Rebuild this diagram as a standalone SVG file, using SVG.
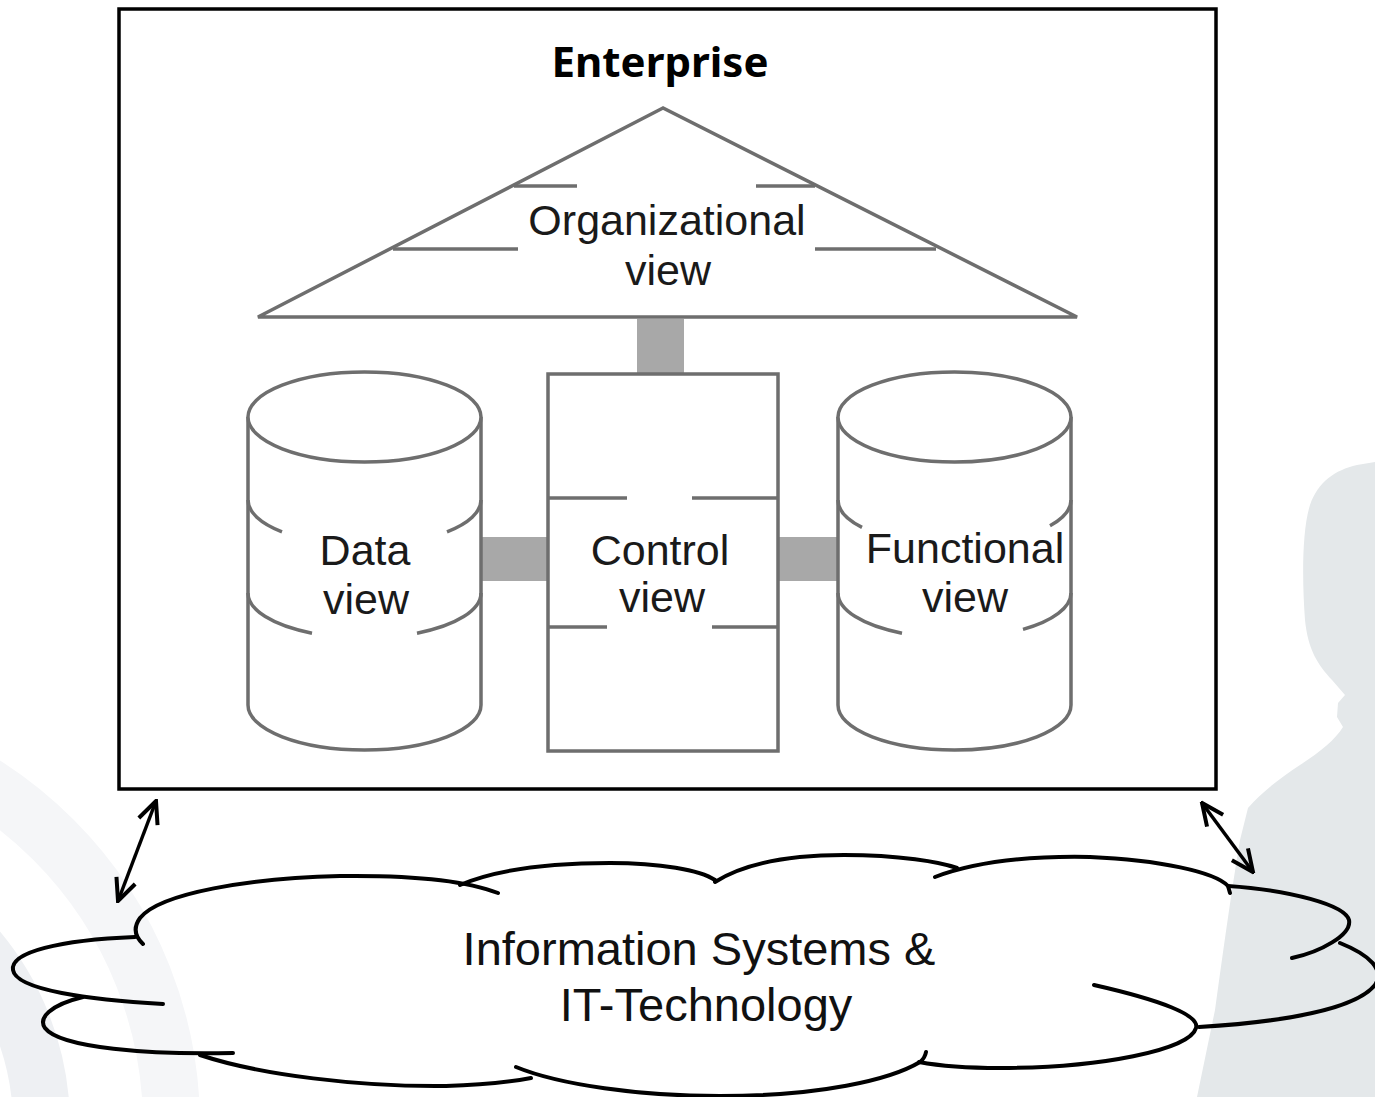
<svg xmlns="http://www.w3.org/2000/svg" width="1375" height="1097" viewBox="0 0 1375 1097">
<defs>
<style>
.g{fill:none;stroke:#6e6e6e;stroke-width:3.5}
.gw{fill:#ffffff;stroke:#6e6e6e;stroke-width:3.5}
.bar{fill:#a8a8a8}
.t{font-family:"Liberation Sans",Arial,sans-serif;font-size:43px;fill:#1a1a1a;text-anchor:middle}
.c{fill:none;stroke:#000;stroke-width:4;stroke-linecap:round}
.ct{font-family:"Liberation Sans",Arial,sans-serif;font-size:47px;fill:#111;text-anchor:middle}
.arr{fill:none;stroke:#000;stroke-width:3.5}
</style>
<marker id="ah" viewBox="0 0 26 24" refX="24" refY="12" markerWidth="26" markerHeight="24" markerUnits="userSpaceOnUse" orient="auto-start-reverse">
<path d="M2,2 L24,12 L2,22" fill="none" stroke="#000" stroke-width="4"/>
</marker>
</defs>
<rect width="1375" height="1097" fill="#ffffff"/>
<g id="background">
<circle cx="-232" cy="1125" r="403.5" fill="none" stroke="#f5f6f8" stroke-width="57"/>
<circle cx="-232" cy="1125" r="273.5" fill="none" stroke="#eef0f3" stroke-width="57"/>
<path d="M1375,462 L1357,465 C1335,470 1318,482 1310,505 C1302,530 1302,580 1305,620 C1308,650 1318,665 1332,680 L1345,695 L1338,703 L1337,717 L1343,727 C1335,740 1320,752 1300,765 C1280,778 1262,792 1248,808 L1240,840 C1230,900 1222,960 1215,1010 L1197,1097 L1375,1097 Z" fill="#e4e8ea"/>
</g>
<g id="enterprise">
<rect x="119" y="9" width="1097" height="780" fill="#ffffff" stroke="#000" stroke-width="3.5"/>
<text x="660" y="77" font-family="Noto Sans,DejaVu Sans,sans-serif" font-weight="bold" font-size="42" fill="#000" text-anchor="middle">Enterprise</text>
</g>
<g id="connectors">
<rect class="bar" x="637" y="319" width="47" height="54"/>
<rect class="bar" x="481" y="537" width="67" height="44"/>
<rect class="bar" x="778" y="537" width="60" height="44"/>
<line class="arr" x1="156" y1="801" x2="118" y2="901" marker-start="url(#ah)" marker-end="url(#ah)"/>
<line class="arr" x1="1202" y1="803" x2="1253" y2="872" marker-start="url(#ah)" marker-end="url(#ah)"/>
</g>
<g id="organizational-view">
<polygon class="gw" points="663,108 258,317 1077,317"/>
<line class="g" x1="514" y1="186" x2="577" y2="186"/>
<line class="g" x1="756" y1="186" x2="815" y2="186"/>
<line class="g" x1="393" y1="249" x2="518" y2="249"/>
<line class="g" x1="815" y1="249" x2="936" y2="249"/>
<text class="t" x="667" y="235" font-size="44">Organizational</text>
<text class="t" x="668" y="285" font-size="44">view</text>
</g>
<g id="data-view">
<path class="gw" d="M248,417 L248,705 A116.5,45 0 0 0 481,705 L481,417"/>
<ellipse class="gw" cx="364.5" cy="417" rx="116.5" ry="45"/>
<path class="g" d="M248,500 A116.5,45 0 0 0 282,531.8"/>
<path class="g" d="M447,531.8 A116.5,45 0 0 0 481,500"/>
<path class="g" d="M248,593 A116.5,45 0 0 0 312,633.2"/>
<path class="g" d="M417,633.2 A116.5,45 0 0 0 481,593"/>
<text class="t" x="365" y="565">Data</text>
<text class="t" x="366" y="614">view</text>
</g>
<g id="control-view">
<rect class="gw" x="548" y="374" width="230" height="377"/>
<line class="g" x1="548" y1="498" x2="627" y2="498"/>
<line class="g" x1="692" y1="498" x2="778" y2="498"/>
<line class="g" x1="548" y1="627" x2="607" y2="627"/>
<line class="g" x1="712" y1="627" x2="778" y2="627"/>
<text class="t" x="660" y="565">Control</text>
<text class="t" x="662" y="612">view</text>
</g>
<g id="functional-view">
<path class="gw" d="M838,417 L838,705 A116.5,45 0 0 0 1071,705 L1071,417"/>
<ellipse class="gw" cx="954.5" cy="417" rx="116.5" ry="45"/>
<path class="g" d="M838,500 A116.5,45 0 0 0 862,527.4"/>
<path class="g" d="M1050,525.8 A116.5,45 0 0 0 1071,500"/>
<path class="g" d="M838,593 A116.5,45 0 0 0 902,633.2"/>
<path class="g" d="M1023,629.4 A116.5,45 0 0 0 1071,593"/>
<text class="t" x="965" y="563">Functional</text>
<text class="t" x="965" y="612">view</text>
</g>
<g id="cloud">
<path class="c" d="M143,944 Q130,932 140,918 C160,893 250,878 340,876 C420,875 470,882 498,893"/>
<path class="c" d="M135,937 C60,940 10,952 13,970 C16,990 90,1000 163,1004"/>
<path class="c" d="M83,997 C50,1005 38,1018 45,1028 C60,1048 150,1055 233,1053"/>
<path class="c" d="M200,1055 C260,1075 360,1087 446,1086 C490,1085 515,1081 531,1078"/>
<path class="c" d="M516,1067 C560,1085 640,1096 720,1096 C820,1096 890,1080 920,1062 Q925,1058 926,1052"/>
<path class="c" d="M1094,985 C1160,1000 1200,1015 1196,1028 C1190,1050 1100,1068 1000,1068 C960,1068 935,1065 919,1062"/>
<path class="c" d="M1340,943 C1370,955 1385,970 1375,985 C1355,1010 1280,1022 1199,1027"/>
<path class="c" d="M1228,886 C1290,890 1345,905 1349,920 C1352,935 1320,952 1292,958"/>
<path class="c" d="M935,877 C980,860 1040,856 1090,857 C1160,860 1215,872 1228,886 L1230,893"/>
<path class="c" d="M715,882 C750,860 800,855 844,855 C900,855 940,862 957,868"/>
<path class="c" d="M460,885 C500,868 560,863 610,863 C660,863 700,870 715,880"/>
<text class="ct" x="699" y="965">Information Systems &amp;</text>
<text class="ct" x="706" y="1021">IT-Technology</text>
</g>
</svg>
